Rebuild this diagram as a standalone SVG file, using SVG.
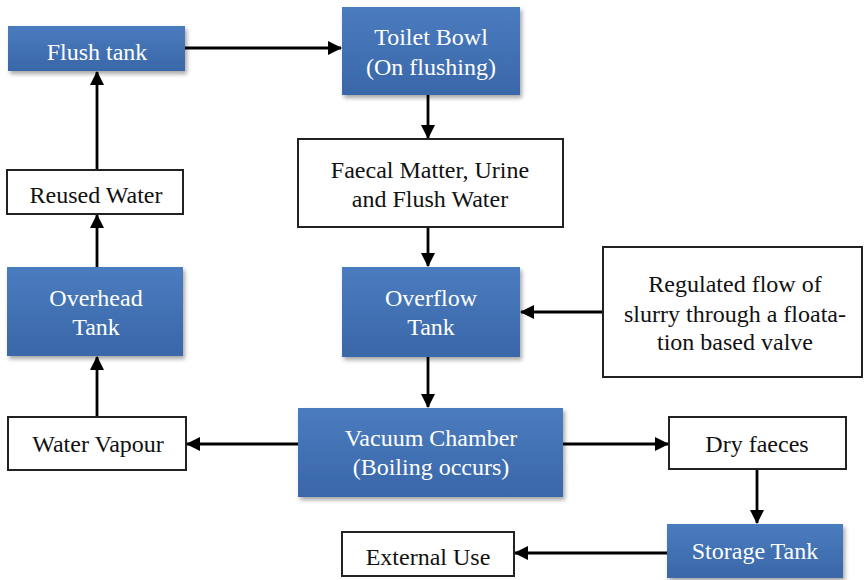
<svg xmlns="http://www.w3.org/2000/svg" width="864" height="580" viewBox="0 0 864 580">
  <defs>
    <linearGradient id="blueFill" x1="0" y1="0" x2="0" y2="1">
      <stop offset="0" stop-color="#4a7cbf"/>
      <stop offset="1" stop-color="#3a67a8"/>
    </linearGradient>
    <filter id="shadow" x="-10%" y="-10%" width="125%" height="135%">
      <feDropShadow dx="2" dy="3" stdDeviation="2" flood-color="#000" flood-opacity="0.35"/>
    </filter>
    <marker id="arrow" markerUnits="userSpaceOnUse" markerWidth="14" markerHeight="14" viewBox="0 0 14 14" refX="13" refY="7" orient="auto">
      <path d="M0,0 L14,7 L0,14 Z" fill="#000"/>
    </marker>
  </defs>
  <style>
    .blue { fill: url(#blueFill); filter: url(#shadow); }
    .white { fill: #fff; stroke: #222; stroke-width: 2; }
    text { font-size: 24px; text-anchor: middle; }
    .lt { fill: #fff; }
    .dt { fill: #111; }
    .conn line { stroke: #000; stroke-width: 2.8; marker-end: url(#arrow); }
  </style>
  <rect width="864" height="580" fill="#fff"/>

  <g id="connectors" class="conn">
    <line x1="97" y1="170" x2="97" y2="72"/>
    <line x1="185" y1="48" x2="341" y2="48"/>
    <line x1="428" y1="95" x2="428" y2="138"/>
    <line x1="428" y1="227" x2="428" y2="266"/>
    <line x1="603" y1="312" x2="521" y2="312"/>
    <line x1="428" y1="357" x2="428" y2="407"/>
    <line x1="298" y1="444" x2="187" y2="444"/>
    <line x1="563" y1="444" x2="668" y2="444"/>
    <line x1="757" y1="469" x2="757" y2="523"/>
    <line x1="667" y1="553" x2="515" y2="553"/>
    <line x1="97" y1="417" x2="97" y2="357"/>
    <line x1="97" y1="267" x2="97" y2="215"/>
  </g>

  <g font-family="Liberation Serif, Tinos, Times New Roman, DejaVu Serif, serif">
  <g id="flush-tank">
    <rect class="blue" x="8" y="26" width="177" height="45"/>
    <text class="lt" x="97" y="60">Flush tank</text>
  </g>
  <g id="toilet-bowl">
    <rect class="blue" x="342" y="7" width="178" height="88"/>
    <text class="lt" x="431" y="45">Toilet Bowl</text>
    <text class="lt" x="431" y="75">(On flushing)</text>
  </g>
  <g id="faecal-matter">
    <rect class="white" x="298" y="139" width="265" height="88"/>
    <text class="dt" x="430" y="178">Faecal Matter, Urine</text>
    <text class="dt" x="430" y="207">and Flush Water</text>
  </g>
  <g id="overflow-tank">
    <rect class="blue" x="342" y="267" width="178" height="90"/>
    <text class="lt" x="431" y="306">Overflow</text>
    <text class="lt" x="431" y="335">Tank</text>
  </g>
  <g id="regulated-flow">
    <rect class="white" x="603" y="247" width="259" height="130"/>
    <text class="dt" x="735" y="292">Regulated flow of</text>
    <text class="dt" x="735" y="322">slurry through a floata-</text>
    <text class="dt" x="735" y="350">tion based valve</text>
  </g>
  <g id="vacuum-chamber">
    <rect class="blue" x="298" y="408" width="265" height="89"/>
    <text class="lt" x="431" y="446">Vacuum Chamber</text>
    <text class="lt" x="431" y="475">(Boiling occurs)</text>
  </g>
  <g id="water-vapour">
    <rect class="white" x="8" y="417" width="178" height="53"/>
    <text class="dt" x="98" y="452">Water Vapour</text>
  </g>
  <g id="overhead-tank">
    <rect class="blue" x="7" y="267" width="176" height="89"/>
    <text class="lt" x="96" y="306">Overhead</text>
    <text class="lt" x="96" y="335">Tank</text>
  </g>
  <g id="reused-water">
    <rect class="white" x="7" y="170" width="176" height="44"/>
    <text class="dt" x="96" y="203">Reused Water</text>
  </g>
  <g id="dry-faeces">
    <rect class="white" x="669" y="417" width="177" height="52"/>
    <text class="dt" x="757" y="452">Dry faeces</text>
  </g>
  <g id="storage-tank">
    <rect class="blue" x="667" y="524" width="176" height="54"/>
    <text class="lt" x="755" y="559">Storage Tank</text>
  </g>
  <g id="external-use">
    <rect class="white" x="342" y="532" width="172" height="44"/>
    <text class="dt" x="428" y="565">External Use</text>
  </g>
  </g>
</svg>
